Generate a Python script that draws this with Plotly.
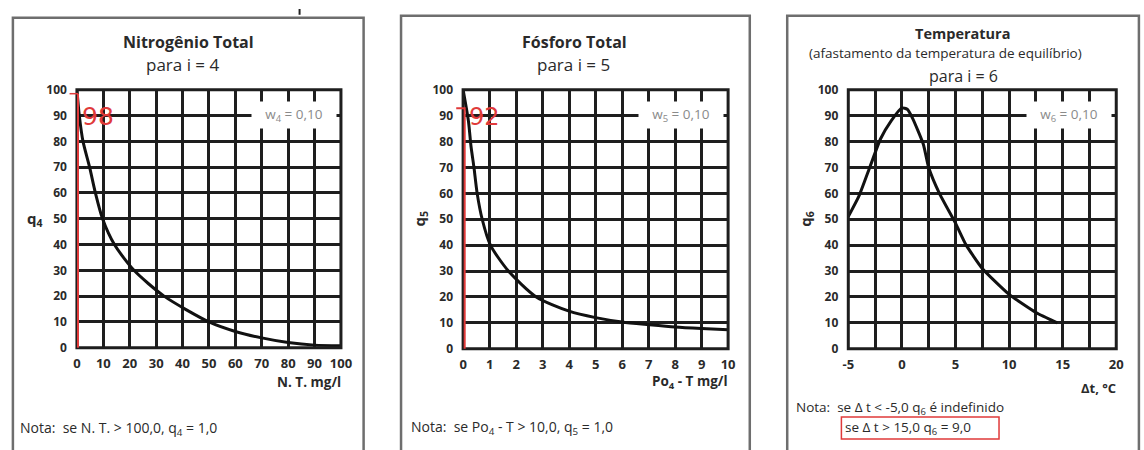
import plotly.graph_objects as go

W, H = 1144, 450

# ---- data: quality curves q_i versus parameter ----
nt_x = [0, 0.9, 2.3, 4.8, 7, 9.7, 14.2, 21.6, 33, 50, 60, 70, 80, 90, 100]
nt_q = [100, 90, 80, 70, 60, 50, 40, 30, 20, 10, 6.3, 3.8, 2, 1, 0.8]

pt_x = [0, 0.2, 0.3, 0.41, 0.53, 0.72, 1.03, 1.71, 2.76, 4, 5, 6, 7, 8, 9, 10]
pt_q = [100, 88, 78, 70, 60, 50, 40, 30, 20, 14.5, 12, 10.3, 9.3, 8.4, 7.8, 7.3]

tp_x = [-5, -4, -3, -2, -1, 0, 0.5, 1, 2, 2.5, 3.5, 5, 6, 7.5, 10, 12.5, 14.5]
tp_q = [51, 59, 70, 81, 88, 93, 92.5, 89, 79, 70, 60, 48.5, 40, 31, 21, 14, 10]

nt_ticks = [0, 10, 20, 30, 40, 50, 60, 70, 80, 90, 100]
pt_ticks = [0, 1, 2, 3, 4, 5, 6, 7, 8, 9, 10]
tp_ticks = [-5, 0, 5, 10, 15, 20]
tp_labels = ["-5", "0", "5", "10", "15", "20"]
q_ticks = [0, 10, 20, 30, 40, 50, 60, 70, 80, 90, 100]

FONT = "Open Sans"
INK = "#2a2a2a"
GRID = "#1e1e1e"
RED = "#e03a3a"


def px(x):
    return x / W


def py(y):
    return 1 - y / H


# plot-area pixel boxes (left, right, top, bottom)
boxes = [(72, 340, 84, 352), (464, 733, 84, 353), (855, 1127, 84, 353)]

fig = go.Figure()

series = [(nt_x, nt_q, 0.7), (pt_x, pt_q, 0.7), (tp_x, tp_q, 0.5)]
for i, (xs, qs, sm) in enumerate(series):
    suffix = "" if i == 0 else str(i + 1)
    fig.add_trace(go.Scatter(
        x=xs, y=qs, mode="lines",
        line=dict(color="#111111", width=3, shape="spline", smoothing=sm),
        xaxis="x" + suffix, yaxis="y" + suffix, showlegend=False,
        hoverinfo="skip",
    ))

layout = dict(
    width=W, height=H, margin=dict(l=0, r=0, t=0, b=0),
    paper_bgcolor="white", plot_bgcolor="white",
    font=dict(family=FONT, color=INK),
)

xranges = [[0, 100], [0, 10], [-5, 20]]
xtickvals = [nt_ticks, pt_ticks, tp_ticks]
xticktext = [[str(v) for v in nt_ticks], [str(v) for v in pt_ticks], tp_labels]
for i, (l, r, t, b) in enumerate(boxes):
    suffix = "" if i == 0 else str(i + 1)
    xa = dict(
        domain=[px(l), px(r)], range=xranges[i], anchor="y" + suffix,
        tickvals=xtickvals[i], ticktext=xticktext[i],
        showgrid=True, gridcolor=GRID, gridwidth=2.5,
        zeroline=False, showline=False, ticks="", ticklabelstandoff=6,
        tickfont=dict(size=13, family=FONT, color=INK, weight="bold"),
        fixedrange=True,
    )
    if i == 2:
        xa["minor"] = dict(dtick=2.5, showgrid=True, gridcolor=GRID, gridwidth=2.5)
    ya = dict(
        domain=[py(b), py(t)], range=[0, 100], anchor="x" + suffix,
        tickvals=q_ticks, showgrid=True, gridcolor=GRID, gridwidth=2.5,
        zeroline=False, showline=False, ticks="", ticklabelstandoff=9,
        tickfont=dict(size=12, family=FONT, color=INK, weight="bold"),
        fixedrange=True,
    )
    layout["xaxis" + suffix] = xa
    layout["yaxis" + suffix] = ya

fig.update_layout(**layout)

shapes = []
# outer frames of the three panels
frames = [(7, 363, 9), (401, 755, 7), (793, 1150, 7)]
for l, r, t in frames:
    shapes.append(dict(type="rect", xref="paper", yref="paper",
                       x0=px(l), x1=px(r), y0=py(462), y1=py(t),
                       line=dict(color="#6e6e6e", width=2.5), layer="below"))
# plot borders
for i in range(3):
    suffix = "" if i == 0 else str(i + 1)
    shapes.append(dict(type="rect", xref="x" + suffix + " domain",
                       yref="y" + suffix + " domain", x0=0, x1=1, y0=0, y1=1,
                       line=dict(color=GRID, width=3), layer="above"))
# red marking on the left axis of the first two panels
shapes.append(dict(type="line", xref="x domain", yref="y domain",
                   x0=0.004, x1=0.004, y0=0, y1=0.985,
                   line=dict(color=RED, width=2)))
shapes.append(dict(type="line", xref="x domain", yref="y domain",
                   x0=-0.028, x1=0.004, y0=0.985, y1=0.985,
                   line=dict(color=RED, width=1.5)))
shapes.append(dict(type="path", xref="x2 domain", yref="y2 domain",
                   path="M -0.026 0.929 L 0.006 0.929 L 0.006 0",
                   line=dict(color=RED, width=2)))
# highlight around the second note of the temperature panel
shapes.append(dict(type="rect", xref="paper", yref="paper",
                   x0=px(848), x1=px(1008), y0=py(447), y1=py(424),
                   line=dict(color=RED, width=1.5)))
# small stroke at the top edge
shapes.append(dict(type="line", xref="paper", yref="paper",
                   x0=px(298), x1=px(298), y0=py(0), y1=py(6),
                   line=dict(color="#222222", width=2)))
fig.update_layout(shapes=shapes)

ann = []


def text(x, y, s, size=12, bold=False, color=INK, xanchor="center",
         family=FONT, **kw):
    ann.append(dict(xref="paper", yref="paper", x=px(x), y=py(y), text=s,
                    showarrow=False, xanchor=xanchor, yanchor="middle",
                    font=dict(size=size, family=family, color=color,
                              weight="bold" if bold else "normal"), **kw))


# titles
text(185, 34, "Nitrogênio Total", size=16, bold=True)
text(180, 58, "para i = 4", size=17)
text(577, 34, "Fósforo Total", size=16, bold=True)
text(576, 58, "para i = 5", size=17)
text(971, 25, "Temperatura", size=14.5, bold=True)
text(954, 46, "(afastamento da temperatura de equilíbrio)", size=13.5)
text(972, 70, "para i = 6", size=16)

# y-axis symbols
text(29, 218, "q<sub>4</sub>", size=15, bold=True)
text(420, 218, "q<sub>5</sub>", size=15, bold=True, textangle=-90)
text(812, 218, "q<sub>6</sub>", size=15, bold=True, textangle=-90)

# x-axis titles
text(342, 388, "N. T. mg/l", size=13.5, bold=True, xanchor="right")
text(735, 388, "Po<sub>4</sub> - T mg/l", size=13.5, bold=True, xanchor="right")
text(1129, 394, "Δt, °C", size=13, bold=True, xanchor="right")

# weight labels on a white patch in the upper-right corner
for i, w in enumerate(["w<sub>4</sub> = 0,10", "w<sub>5</sub> = 0,10", "w<sub>6</sub> = 0,10"]):
    l, r, t, b = boxes[i]
    ann.append(dict(xref="paper", yref="paper", x=px(r - 4), y=py(110), text=w,
                    showarrow=False, xanchor="right", yanchor="middle",
                    width=80, height=22, borderpad=2, bgcolor="white",
                    align="center",
                    font=dict(size=13.5, family=FONT, color="#8a8a8a")))

# red values written on the first two panels
text(93, 112, "98", size=25, color=RED, family="DejaVu Sans")
text(486, 112, "92", size=24, color=RED, family="DejaVu Sans")

# notes
text(12, 436, "Nota:  se N. T. &gt; 100,0, q<sub>4</sub> = 1,0", size=14, xanchor="left")
text(409, 435, "Nota:  se Po<sub>4</sub> - T &gt; 10,0, q<sub>5</sub> = 1,0", size=14, xanchor="left")
text(800, 415, "Nota:  se Δ t &lt; -5,0 q<sub>6</sub> é indefinido", size=13.5, xanchor="left")
text(850, 435, "se Δ t &gt; 15,0 q<sub>6</sub> = 9,0", size=13.5, xanchor="left")

fig.update_layout(annotations=ann)

fig.write_html("out.html")
